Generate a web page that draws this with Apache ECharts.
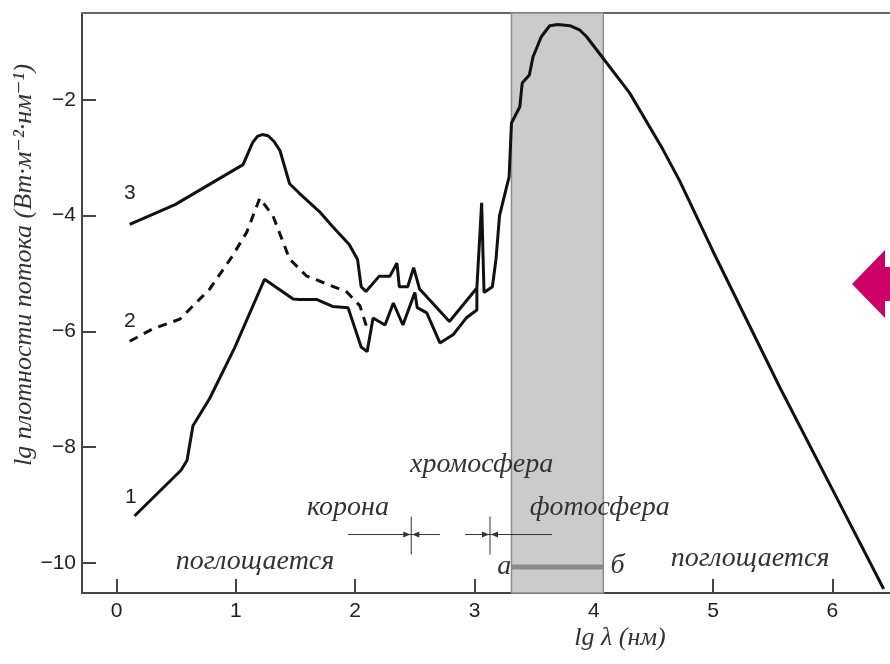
<!DOCTYPE html>
<html><head><meta charset="utf-8">
<script src="https://cdn.jsdelivr.net/npm/echarts@6/dist/echarts.min.js"></script>
<style>html,body{margin:0;padding:0;background:#fff}#c{width:890px;height:664px}</style>
</head><body><div id="c"></div>
<script>
// ---- data (lg λ [nm], lg flux) ----
const xTicks = [0, 1, 2, 3, 4, 5, 6];
const yTicks = [-10, -8, -6, -4, -2];
const curve1 = [[0.15,-9.19],[0.54,-8.40],[0.59,-8.23],[0.64,-7.63],[0.78,-7.16],[0.99,-6.28],[1.24,-5.10],[1.48,-5.44],[1.53,-5.45],[1.68,-5.45],[1.81,-5.57],[1.94,-5.59],[2.05,-6.27],[2.10,-6.35],[2.15,-5.77],[2.25,-5.89],[2.32,-5.51],[2.40,-5.89],[2.50,-5.33],[2.52,-5.59],[2.60,-5.68],[2.71,-6.20],[2.82,-6.06],[2.93,-5.77],[3.02,-5.63],[3.02,-5.26]];
const curve2 = [[0.11,-6.17],[0.30,-5.96],[0.53,-5.79],[0.64,-5.56],[0.78,-5.27],[0.97,-4.70],[1.09,-4.29],[1.20,-3.70],[1.31,-4.00],[1.45,-4.75],[1.59,-5.04],[1.93,-5.32],[2.04,-5.56],[2.10,-5.95]];
const curve3 = [[0.11,-4.15],[0.49,-3.81],[1.06,-3.12],[1.14,-2.74],[1.18,-2.63],[1.22,-2.60],[1.27,-2.62],[1.32,-2.72],[1.37,-2.88],[1.45,-3.45],[1.53,-3.61],[1.70,-3.93],[1.81,-4.19],[1.95,-4.50],[2.02,-4.76],[2.05,-5.23],[2.09,-5.31],[2.20,-5.05],[2.29,-5.05],[2.35,-4.82],[2.37,-5.23],[2.44,-5.23],[2.49,-4.90],[2.54,-5.27],[2.79,-5.83],[3.02,-5.25],[3.06,-3.78],[3.08,-5.33],[3.15,-5.23],[3.18,-4.76],[3.21,-4.00],[3.29,-3.33],[3.31,-2.40],[3.38,-2.12],[3.40,-1.71],[3.46,-1.57],[3.49,-1.26],[3.56,-0.91],[3.63,-0.72],[3.70,-0.70],[3.80,-0.72],[3.88,-0.79],[3.94,-0.91],[4.07,-1.26],[4.30,-1.88],[4.58,-2.86],[4.72,-3.40],[5.00,-4.62],[5.56,-6.97],[6.00,-8.73],[6.43,-10.45]];
const bandRange = [3.31, 4.08];

const chart = echarts.init(document.getElementById('c'));
const axisColor = '#444';
const lineColor = '#111';
const tickFont = {fontFamily:'"Liberation Sans", Arial, sans-serif', fontSize:21, color:'#222'};
const minus = v => String(v).replace('-', '\u2212');

chart.setOption({
  animation:false,
  grid:{left:82, right:0, top:13, bottom:71, show:false},
  xAxis:[{type:'value', min:-0.29, max:6.483, position:'bottom',
    axisLine:{show:true, onZero:false, lineStyle:{color:axisColor, width:2}},
    axisTick:{show:true, inside:true, length:14, customValues:xTicks, lineStyle:{color:axisColor, width:2}},
    axisLabel:Object.assign({customValues:xTicks, margin:8, formatter:minus}, tickFont),
    splitLine:{show:false}},
   {type:'value', min:-0.29, max:6.483, position:'top',
    axisLine:{show:true, onZero:false, lineStyle:{color:'#666', width:2}},
    axisTick:{show:false}, axisLabel:{show:false}, splitLine:{show:false}}],
  yAxis:{type:'value', min:-10.52, max:-0.5,
    axisLine:{show:true, onZero:false, lineStyle:{color:axisColor, width:2}},
    axisTick:{show:true, inside:true, length:14, customValues:yTicks, lineStyle:{color:axisColor, width:2}},
    axisLabel:Object.assign({customValues:yTicks, margin:6, formatter:minus}, tickFont),
    splitLine:{show:false}},
  series:[
    {type:'line', data:[], z:1, markArea:{silent:true, itemStyle:{color:'#cbcbcb', borderColor:'#8c8c8c', borderWidth:1.5},
      data:[[{xAxis:bandRange[0]},{xAxis:bandRange[1]}]]}},
    {type:'line', data:curve3, showSymbol:false, z:5, lineStyle:{color:lineColor, width:3}},
    {type:'line', data:curve2, showSymbol:false, z:5, lineStyle:{color:lineColor, width:3, type:[9,7]}},
    {type:'line', data:curve1, showSymbol:false, z:5, lineStyle:{color:lineColor, width:3}}
  ]
});

function P(x,y){ return chart.convertToPixel({xAxisIndex:0, yAxisIndex:0},[x,y]); }
const serif = '"Liberation Serif", "DejaVu Serif", serif';
const g = [];
function txt(t, x, y, size){
  const p = P(x,y);
  g.push({type:'text', x:p[0], y:p[1], z:20, style:{text:t, fill:'#333', fontSize:size, fontFamily:serif, fontStyle:'italic', align:'center', verticalAlign:'middle'}});
}
function sans(t, x, y){
  const p = P(x,y);
  g.push({type:'text', x:p[0], y:p[1], z:20, style:{text:t, fill:'#222', fontSize:21, fontFamily:'"Liberation Sans", Arial, sans-serif', align:'center', verticalAlign:'middle'}});
}
function marker(xv, x1, x2, yv){
  const c = P(xv,yv), a = P(x1,yv), b = P(x2,yv);
  g.push({type:'line', z:20, shape:{x1:a[0], y1:a[1], x2:b[0], y2:b[1]}, style:{stroke:'#333', lineWidth:1}});
  g.push({type:'line', z:20, shape:{x1:c[0], y1:c[1]-18, x2:c[0], y2:c[1]+20}, style:{stroke:'#333', lineWidth:1}});
  g.push({type:'polygon', z:20, shape:{points:[[c[0]-1,c[1]],[c[0]-8,c[1]-3],[c[0]-8,c[1]+3]]}, style:{fill:'#333'}});
  g.push({type:'polygon', z:20, shape:{points:[[c[0]+1,c[1]],[c[0]+8,c[1]-3],[c[0]+8,c[1]+3]]}, style:{fill:'#333'}});
}
sans('3', 0.11, -3.61);
sans('2', 0.11, -5.83);
sans('1', 0.12, -8.86);
txt('хромосфера', 3.06, -8.30, 28);
txt('корона', 1.94, -9.04, 28);
txt('фотосфера', 4.05, -9.04, 28);
txt('поглощается', 1.16, -9.98, 28);
txt('поглощается', 5.31, -9.93, 28);
txt('а', 3.25, -10.07, 28);
txt('б', 4.20, -10.05, 28);
marker(2.47, 1.94, 2.71, -9.51);
marker(3.13, 2.92, 3.65, -9.51);
{ const a = P(bandRange[0], -10.07), b = P(bandRange[1], -10.07);
  g.push({type:'line', z:19, shape:{x1:a[0], y1:a[1], x2:b[0], y2:b[1]}, style:{stroke:'#8a8a8a', lineWidth:5}}); }
// axis names
g.push({type:'text', x:24, y:265, rotation:Math.PI/2, z:20, style:{text:'lg плотности потока (Вт·м⁻²·нм⁻¹)', fill:'#333', fontSize:26, fontFamily:serif, fontStyle:'italic', align:'center', verticalAlign:'middle'}});
g.push({type:'text', x:620, y:638, z:20, style:{text:'lg λ (нм)', fill:'#333', fontSize:26, fontFamily:serif, fontStyle:'italic', align:'center', verticalAlign:'middle'}});
// magenta arrow decoration
g.push({type:'polygon', z:30, shape:{points:[[852,284],[885,250],[885,267],[892,267],[892,301],[885,301],[885,318]]}, style:{fill:'#cc0066'}});
chart.setOption({graphic:g});
</script></body></html>
